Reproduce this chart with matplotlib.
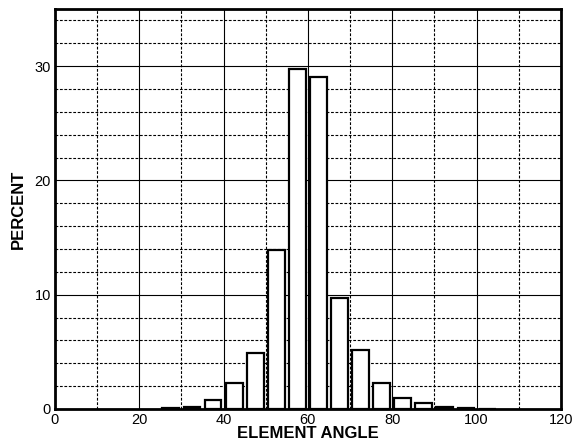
import matplotlib
matplotlib.use("Agg")
import matplotlib.pyplot as plt
from matplotlib.ticker import MultipleLocator

plt.rcParams['font.family'] = ['Liberation Sans', 'DejaVu Sans']

bin_centers = [27.5, 32.5, 37.5, 42.5, 47.5, 52.5, 57.5, 62.5, 67.5, 72.5, 77.5, 82.5, 87.5, 92.5, 97.5, 102.5]
percent = [0.05, 0.2, 0.76, 2.25, 4.87, 13.9, 29.75, 29.05, 9.68, 5.16, 2.25, 0.93, 0.5, 0.2, 0.05, 0.03]
x_ticks = [0, 20, 40, 60, 80, 100, 120]
y_ticks = [0, 10, 20, 30]

fig = plt.figure(figsize=(5.83, 4.42), dpi=100)
ax = fig.add_axes([0.0943, 0.0747, 0.8677, 0.905])

ax.set_xlim(0, 120)
ax.set_ylim(0, 35)
ax.set_xticks(x_ticks)
ax.set_yticks(y_ticks)
ax.xaxis.set_minor_locator(MultipleLocator(10))
ax.yaxis.set_minor_locator(MultipleLocator(2))
ax.grid(which='major', color='black', linewidth=0.8, linestyle='-')
ax.grid(which='minor', color='black', linewidth=0.8, linestyle=(0, (2.5, 1.5)))
ax.set_axisbelow(True)

ax.bar(bin_centers, percent, width=4.0, color='white', edgecolor='black', linewidth=1.6, zorder=3)

for s in ax.spines.values():
    s.set_linewidth(2.0)
    s.set_zorder(5)

ax.tick_params(which='both', length=0, labelsize=10.5, pad=3)
ax.set_xlabel('ELEMENT ANGLE', fontsize=12, fontweight='bold', labelpad=-1)
ax.set_ylabel('PERCENT', fontsize=12, fontweight='bold', labelpad=6)

fig.savefig('out.png', dpi=100)
